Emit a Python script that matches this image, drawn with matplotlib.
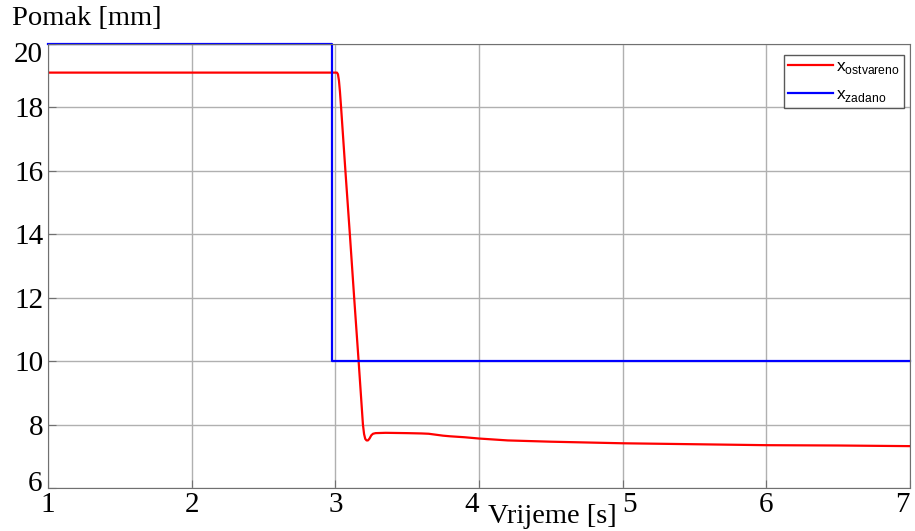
import matplotlib.pyplot as plt
from matplotlib.transforms import offset_copy

# measured displacement (red)
t_ostvareno = [1.0, 2.5, 3.0, 3.011, 3.018, 3.025, 3.032, 3.040, 3.070, 3.101, 3.131, 3.162,
               3.192, 3.200, 3.208, 3.217, 3.227, 3.238, 3.250, 3.262, 3.28, 3.35, 3.5,
               3.6, 3.65, 3.7, 3.75, 3.8, 3.9, 4.0, 4.2, 4.5, 4.8, 5.0, 5.5, 6.0, 6.5, 7.0]
x_ostvareno = [19.1, 19.1, 19.1, 19.1, 19.05, 18.85, 18.5, 18.0, 16.0, 14.0, 12.0, 10.0,
               8.0, 7.7, 7.55, 7.5, 7.5, 7.56, 7.66, 7.71, 7.73, 7.74, 7.73,
               7.72, 7.71, 7.68, 7.65, 7.63, 7.6, 7.56, 7.5, 7.46, 7.43, 7.41, 7.38, 7.35, 7.34, 7.32]

# reference displacement (blue)
t_zadano = [1.0, 2.976, 2.976, 7.0]
x_zadano = [20.0, 20.0, 10.0, 10.0]

y_ticks = [6, 8, 10, 12, 14, 16, 18, 20]
x_ticks = [1, 2, 3, 4, 5, 6, 7]

fig = plt.figure(figsize=(9.15, 5.31), dpi=100)
ax = fig.add_axes([0.0525, 0.081, 0.942, 0.836])

ax.plot(t_ostvareno, x_ostvareno, color='#ff0000', lw=1.6, label=r'x$_{\mathregular{ostvareno}}$')
ax.plot(t_zadano, x_zadano, color='#0000ff', lw=1.6, label=r'x$_{\mathregular{zadano}}$', clip_on=False)

ax.set_xlim(1, 7)
ax.set_ylim(6, 20)
ax.set_xticks(x_ticks)
ax.set_yticks(y_ticks)
# end labels "6" and "20" are drawn separately, nudged like in the original
ax.set_yticklabels([''] + [str(v) for v in y_ticks[1:-1]] + [''])
ax.grid(True, color='#b0b0b0', lw=1.0)
ax.tick_params(labelsize=21, direction='in', length=6, color='#707070')
ax.tick_params(axis='x', pad=3)
ax.tick_params(axis='y', pad=3)
for lbl in ax.get_xticklabels() + ax.get_yticklabels():
    lbl.set_fontfamily('Liberation Serif')
# labels pushed aside around the x label, and the last one kept inside
xl = ax.get_xticklabels()
xl[3].set_ha('right')
xl[4].set_ha('left')
xl[6].set_ha('right')
for s in ax.spines.values():
    s.set_color('#707070')

tr_top = offset_copy(ax.get_yaxis_transform(), fig=fig, x=-4, y=-8, units='points')
ax.text(0, y_ticks[-1], str(y_ticks[-1]), transform=tr_top, ha='right', va='center',
        fontsize=21, family='Liberation Serif')
tr_bot = offset_copy(ax.get_yaxis_transform(), fig=fig, x=-4, y=3, units='points')
ax.text(0, y_ticks[0], str(y_ticks[0]), transform=tr_bot, ha='right', va='center',
        fontsize=21, family='Liberation Serif')

fig.text(0.013, 0.965, 'Pomak [mm]', fontsize=20.5, family='Liberation Serif', va='center')
fig.text(0.533, 0.015, 'Vrijeme [s]', fontsize=20.5, family='Liberation Serif', va='baseline')

leg = ax.legend(loc='upper right', bbox_to_anchor=(1.003, 0.995), fancybox=False,
                prop={'family': 'Liberation Sans', 'size': 12.5}, handlelength=2.6,
                handletextpad=0.15, borderpad=0.25, labelspacing=0.6)
leg.get_frame().set_edgecolor('#303030')
leg.get_frame().set_linewidth(1.0)

plt.savefig('out.png', dpi=100)
